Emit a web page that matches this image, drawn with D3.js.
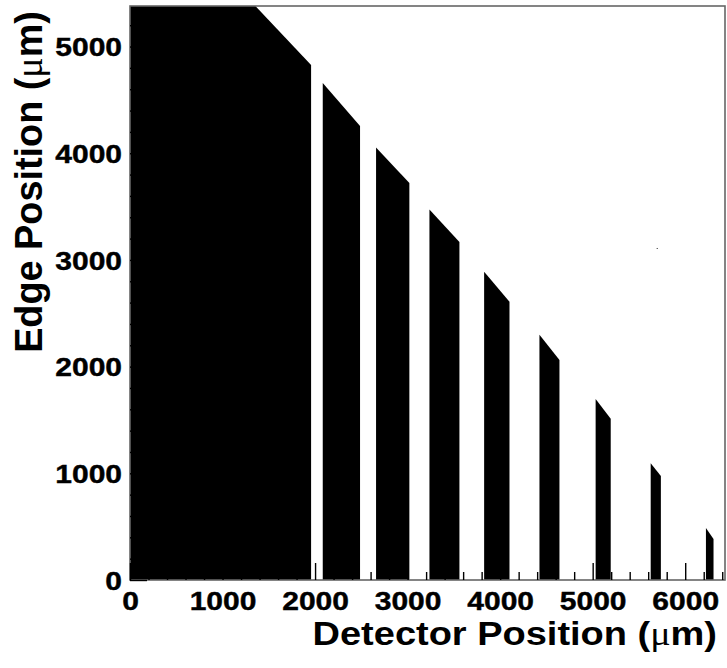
<!DOCTYPE html>
<html>
<head>
<meta charset="utf-8">
<script src="https://cdn.jsdelivr.net/npm/d3@7"></script>
<style>
  body { margin: 0; background: #fff; }
  text { font-family: "Liberation Sans", Arial, Helvetica, sans-serif; font-weight: bold; fill: #000; }
</style>
</head>
<body>
<div id="chart"></div>
<script>
// ---- data ----
// each strip: x of the top vertices (um) and the edge position there (um)
const stripX   = [[0, 1355, 1957], [2083, 2486], [2659, 3019], [3236, 3560], [3827, 4101],
                  [4425, 4641], [5032, 5195], [5627, 5737], [6224, 6306]]
const stripTop = [[5380, 5380, 4827], [4658, 4255], [4053, 3721], [3472, 3168], [2889, 2608],
                  [2299, 2062], [1696, 1512], [1094, 975], [487, 384]]
const strayX = [5692]
const strayY = [3112]

const xMajor = [0, 1000, 2000, 3000, 4000, 5000, 6000]
const yMajor = [0, 1000, 2000, 3000, 4000, 5000]
const xMax = 6430, yMax = 5380

var width = 727, height = 668,
    margin = {top: 6, right: 2, bottom: 88, left: 130};

var svg = d3.select("#chart").append("svg")
    .attr("width", width)
    .attr("height", height)

var xScale = d3.scaleLinear().domain([0, xMax]).range([margin.left, width - margin.right])
var yScale = d3.scaleLinear().domain([0, yMax]).range([height - margin.bottom, margin.top])

var xMinor = d3.range(0, xMax, 200).filter(v => v % 1000 !== 0)
var yMinor = d3.range(0, yMax, 200).filter(v => v % 1000 !== 0)

// ---------------- strips ----------------
var area = d3.area()
    .x(d => xScale(d[0]))
    .y0(yScale(0))
    .y1(d => yScale(d[1]))

svg.append("g").selectAll("path")
  .data(stripX.map((xs, i) => xs.map((v, j) => [v, stripTop[i][j]])))
  .join("path")
    .attr("d", area)
    .attr("fill", "#000")

svg.append("g").selectAll("rect")
  .data(strayX)
  .join("rect")
    .attr("x", d => xScale(d))
    .attr("y", (d, i) => yScale(strayY[i]))
    .attr("width", 1).attr("height", 1)
    .attr("fill", "#222")

// ---------------- frame ----------------
svg.append("rect")
    .attr("x", margin.left).attr("y", margin.top)
    .attr("width", width - margin.left - margin.right)
    .attr("height", height - margin.top - margin.bottom)
    .attr("fill", "none")
    .attr("stroke", "#666")
    .attr("stroke-width", 1.6)

// ---------------- axes ----------------
const sy = 0.85   // glyphs look squashed vertically in the picture
var gx = svg.append("g").attr("transform", "translate(0," + (height - margin.bottom) + ")")
gx.call(d3.axisBottom(xScale).tickValues(xMajor).tickSize(-17).tickFormat(d3.format("d")))
gx.append("g").call(d3.axisBottom(xScale).tickValues(xMinor).tickSize(-8).tickFormat(""))

var gy = svg.append("g").attr("transform", "translate(" + margin.left + ",0)")
gy.call(d3.axisLeft(yScale).tickValues(yMajor).tickSize(-17).tickPadding(8).tickFormat(d3.format("d")))
gy.append("g").call(d3.axisLeft(yScale).tickValues(yMinor).tickSize(-8).tickFormat(""))

svg.selectAll(".domain").remove()
svg.selectAll(".tick line").attr("stroke", "#000").attr("stroke-width", 1.4)

gx.selectAll(".tick text")
    .attr("font-size", 30)
    .attr("transform", "scale(1," + sy + ")")
    .attr("y", 30 / sy)
    .attr("dy", null)

gy.selectAll(".tick text")
    .attr("font-size", 30)
    .attr("transform", "scale(1," + sy + ")")
    .attr("dy", "0.36em")
    .attr("x", -8)

svg.selectAll(".tick text")
    .attr("font-family", null)
    .attr("stroke", "#000")
    .attr("stroke-width", 0.5)

// ---------------- titles ----------------
var xt = svg.append("text")
    .attr("transform", "translate(717,645) scale(1,0.86)")
    .attr("text-anchor", "end")
    .attr("font-size", 38)
xt.append("tspan").text("Detector Position (")
xt.append("tspan").attr("font-family", "'Liberation Serif', serif").attr("font-weight", "normal").text("\u03bc")
xt.append("tspan").text("m)")

var yt = svg.append("text")
    .attr("transform", "translate(42,182) rotate(-90) scale(0.97,1)")
    .attr("text-anchor", "middle")
    .attr("font-size", 39)
yt.append("tspan").text("Edge Position (")
yt.append("tspan").attr("font-family", "'Liberation Serif', serif").attr("font-weight", "normal").text("\u03bc")
yt.append("tspan").text("m)")
</script>
</body>
</html>
